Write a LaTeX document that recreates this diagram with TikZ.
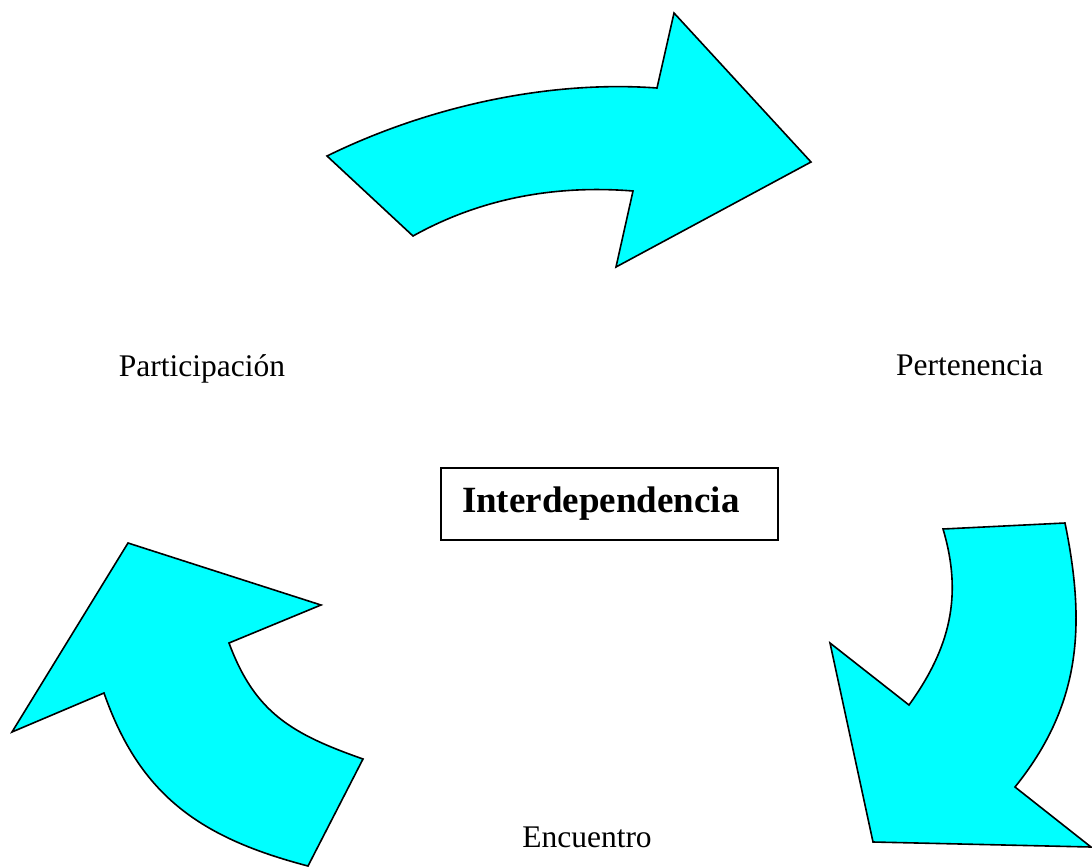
\documentclass[tikz,border=0pt]{standalone}
\usepackage{fontspec}
\setmainfont{Liberation Serif}
\definecolor{aquafill}{RGB}{0,255,255}
\begin{document}
\begin{tikzpicture}[x=1pt,y=-1pt,
  arrowshape/.style={fill=aquafill, draw=black, line width=1.6pt, line join=miter},
  lbl/.style={font=\fontsize{31.5}{36}\selectfont, anchor=base, inner sep=0pt},
  titlebox/.style={draw=black, line width=1.6pt, minimum width=337pt, minimum height=72pt,
    inner xsep=0pt, inner ysep=0pt, text width=337pt, align=left,
    font=\fontsize{37}{42}\selectfont\bfseries}]
\useasboundingbox (0,0) rectangle (1092,867);
% top arrow
\draw[arrowshape] (327,156) .. controls (427,107) and (547,80) .. (657,88)
  -- (674,13) -- (811,162) -- (616,267) -- (633,191)
  .. controls (558,185) and (483,197) .. (413,236) -- cycle;
% right arrow
\draw[arrowshape] (943,529) -- (1065,523)
  .. controls (1086,626) and (1081,705) .. (1015,787)
  -- (1091,847) -- (873,842) -- (830,643) -- (909,705)
  .. controls (950,648) and (963,596) .. (943,529) -- cycle;
% left arrow
\draw[arrowshape] (128,543) -- (321,605) -- (229,643)
  .. controls (255,713) and (292,734) .. (363,759)
  -- (308,866) .. controls (201,838) and (140,796) .. (104,693)
  -- (12,732) -- cycle;
% labels
\node[lbl] (part) at (202,376) {Participación};
\node[lbl] (pert) at (969.5,375) {Pertenencia};
\node[lbl] (enc) at (587,847) {Encuentro};
\node[titlebox] (inter) at (609.5,504) {\hspace*{21pt}Interdependencia};
\end{tikzpicture}
\end{document}
